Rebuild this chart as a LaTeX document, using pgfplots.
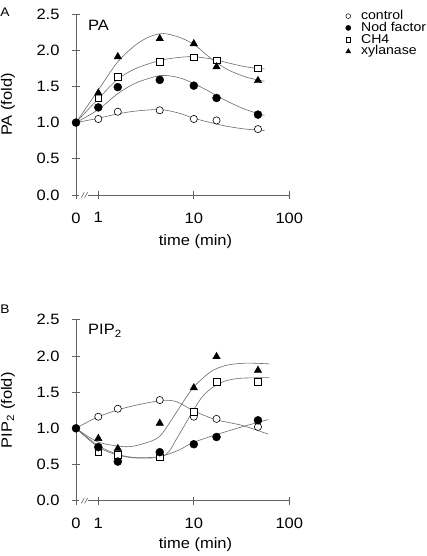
\documentclass[border=0pt]{standalone}
\usepackage{fontspec}
\setmainfont{Liberation Sans}[FakeStretch=1.1]
\usepackage{pgfplots}
\pgfplotsset{compat=1.18}
\definecolor{axc}{gray}{0.38}
\definecolor{cvc}{gray}{0.42}
\pgfplotsset{
  sCurve/.style={smooth, no marks, cvc, line width=0.6pt},
  sCtrl/.style={only marks, mark=*, mark size=3.6pt, mark options={fill=white, draw=black, line width=0.6pt}},
  sNod/.style={only marks, mark=*, mark size=4pt, mark options={fill=black, draw=black}},
  sCh/.style={only marks, mark=square*, mark size=3.3pt, mark options={fill=white, draw=black, line width=0.6pt}},
  sXyl/.style={only marks, mark=triangle*, mark size=4.3pt, mark options={fill=black, draw=black}},
}
\newcommand{\axisbreak}{%
  \fill[white] ([yshift=-1.5pt]axis cs:0.634,0) rectangle ([yshift=1.5pt]axis cs:0.787,0);
  \draw[axc, line width=0.6pt] ([xshift=-1.5pt,yshift=-2.7pt]axis cs:0.688,0) -- ([xshift=1.5pt,yshift=2.7pt]axis cs:0.688,0);
  \draw[axc, line width=0.6pt] ([xshift=-1.5pt,yshift=-2.7pt]axis cs:0.745,0) -- ([xshift=1.5pt,yshift=2.7pt]axis cs:0.745,0);
}
\begin{document}
\begin{tikzpicture}[x=1pt,y=1pt]
\useasboundingbox (0,0) rectangle (427,556);
% ---------------- Panel A ----------------
\begin{axis}[xmode=log, scale only axis, width=213.3pt, height=181pt,
    at={(76pt,361pt)}, anchor=south west,
    xmin=0.584, xmax=100, ymin=0, ymax=2.5,
    axis x line=bottom, axis y line=left,
    axis line style={-, axc, line width=0.7pt},
    xtick={0.584,1,10,100}, xticklabels={0,1,10,100},
    ytick={0,0.5,1,1.5,2,2.5},
    yticklabels={0.0,0.5,1.0,1.5,2.0,2.5},
    xminorticks=false, yminorticks=false,
    tick align=center, major tick length=8pt,
    tick style={axc, line width=0.7pt},
    tick label style={font=\fontsize{15}{17}\selectfont},
    x tick label style={yshift=-10pt},
    y tick label style={xshift=-9pt},
    label style={font=\fontsize{15}{17}\selectfont},
    xlabel={time (min)}, ylabel={PA (fold)},
    x label style={at={(axis description cs:0.56,-0.258)}, anchor=center},
    y label style={at={(axis description cs:-0.319,0.5)}, anchor=center},
    clip=false,
  legend style={at={(axis description cs:1.2635,1.022)}, anchor=north west,
    draw=none, fill=none, font=\fontsize{12.8}{15}\selectfont,
    row sep=0pt, column sep=10pt, inner sep=0pt,
    nodes={text height=9pt, text depth=2.4pt, inner sep=0.2pt, anchor=west}},
  legend cell align=left,
  legend image code/.code={\draw plot coordinates {(0pt,0pt)};},
]
\addlegendimage{only marks, mark=*, mark size=2.4pt, mark options={fill=white, draw=black, line width=0.5pt}}
\addlegendentry{control}
\addlegendimage{only marks, mark=*, mark size=2.6pt, mark options={fill=black, draw=black}}
\addlegendentry{Nod factor}
\addlegendimage{only marks, mark=square*, mark size=2.2pt, mark options={fill=white, draw=black, line width=0.5pt}}
\addlegendentry{CH4}
\addlegendimage{only marks, mark=triangle*, mark size=2.9pt, mark options={fill=black, draw=black}}
\addlegendentry{xylanase}
% fitted curves
\addplot[sCurve, forget plot] coordinates {(0.584,1.0) (1,1.06) (1.6,1.12) (2.5,1.16) (4.5,1.18) (7,1.13) (10,1.06) (15,1.00) (22,0.95) (35,0.91) (55,0.89)};
\addplot[sCurve, forget plot] coordinates {(0.584,1.0) (1,1.18) (1.6,1.40) (2.5,1.55) (4.5,1.65) (7,1.62) (10,1.54) (15,1.42) (22,1.30) (35,1.18) (55,1.10)};
\addplot[sCurve, forget plot] coordinates {(0.584,1.0) (1,1.33) (1.6,1.60) (2.5,1.75) (4.5,1.86) (7,1.90) (10,1.91) (15,1.88) (22,1.83) (35,1.77) (55,1.74)};
\addplot[sCurve, forget plot] coordinates {(0.584,1.0) (1,1.45) (1.6,1.84) (2.5,2.08) (3.5,2.19) (4.8,2.23) (7,2.18) (10,2.08) (15,1.89) (22,1.74) (35,1.63) (55,1.57)};
% data (the shared t=0 point is shown by the filled circle)
\addplot[sCtrl, forget plot] coordinates {(1,1.05) (1.6,1.15) (4.4,1.17) (10,1.05) (17.3,1.03) (47,0.91)};
\addplot[sCh, forget plot] coordinates {(1,1.34) (1.6,1.63) (4.4,1.84) (10,1.90) (17.3,1.86) (47,1.75)};
\addplot[sXyl, forget plot] coordinates {(1,1.41) (1.6,1.91) (4.4,2.16) (10,2.09) (17.3,1.77) (47,1.58)};
\addplot[sNod, forget plot] coordinates {(0.584,1.0) (1,1.21) (1.6,1.49) (4.4,1.59) (10,1.51) (17.3,1.34) (47,1.11)};
\axisbreak
\end{axis}
% ---------------- Panel B ----------------
\begin{axis}[xmode=log, scale only axis, width=213.3pt, height=181pt,
    at={(76pt,55.3pt)}, anchor=south west,
    xmin=0.584, xmax=100, ymin=0, ymax=2.5,
    axis x line=bottom, axis y line=left,
    axis line style={-, axc, line width=0.7pt},
    xtick={0.584,1,10,100}, xticklabels={0,1,10,100},
    ytick={0,0.5,1,1.5,2,2.5},
    yticklabels={0.0,0.5,1.0,1.5,2.0,2.5},
    xminorticks=false, yminorticks=false,
    tick align=center, major tick length=8pt,
    tick style={axc, line width=0.7pt},
    tick label style={font=\fontsize{15}{17}\selectfont},
    x tick label style={yshift=-10pt},
    y tick label style={xshift=-9pt},
    label style={font=\fontsize{15}{17}\selectfont},
    xlabel={time (min)}, ylabel={PIP\textsubscript{2} (fold)},
    x label style={at={(axis description cs:0.56,-0.244)}, anchor=center},
    y label style={at={(axis description cs:-0.319,0.5)}, anchor=center},
    clip=false,
]
\addplot[sCurve] coordinates {(0.584,1.0) (1,1.16) (2,1.29) (4.4,1.38) (6.5,1.37) (10,1.24) (17,1.12) (32,1.04) (60,0.92)};
\addplot[sCurve] coordinates {(0.584,1.0) (1,0.76) (1.6,0.64) (2.5,0.595) (4.4,0.61) (7,0.70) (9.7,0.80) (17,0.91) (32,1.02) (60,1.12)};
\addplot[sCurve] coordinates {(0.584,1.0) (1,0.74) (1.6,0.63) (2.5,0.59) (4.4,0.60) (5.5,0.68) (6.5,0.84) (8,1.04) (9.7,1.23) (12,1.42) (14.5,1.53) (20,1.64) (30,1.69) (62,1.70)};
\addplot[sCurve] coordinates {(0.584,1.0) (1,0.81) (1.95,0.745) (3,0.79) (4.4,0.89) (6.5,1.21) (9.7,1.55) (15,1.78) (22,1.87) (35,1.90) (62,1.89)};
\addplot[sCtrl] coordinates {(1,1.16) (1.6,1.27) (4.4,1.39) (10,1.16) (17.3,1.13) (47,1.02)};
\addplot[sCh] coordinates {(1,0.67) (1.6,0.63) (4.4,0.60) (10,1.23) (17.3,1.64) (47,1.64)};
\addplot[sXyl] coordinates {(1,0.86) (1.6,0.72) (4.4,1.07) (10,1.56) (17.3,1.99) (47,1.80)};
\addplot[sNod] coordinates {(0.584,1.0) (1,0.74) (1.6,0.54) (4.4,0.67) (10,0.78) (17.3,0.88) (47,1.11)};
\axisbreak
\end{axis}
% panel letters and inner titles
\node[anchor=west, inner sep=0pt, font=\fontsize{12.5}{14}\selectfont] at (0.3,543.5) {A};
\node[anchor=west, inner sep=0pt, font=\fontsize{12.5}{14}\selectfont] at (0.3,247) {B};
\node[anchor=base west, inner sep=0pt, font=\fontsize{15}{17}\selectfont] at (88,525) {PA};
\node[anchor=base west, inner sep=0pt, font=\fontsize{15}{17}\selectfont] at (88,221) {PIP\textsubscript{2}};
\end{tikzpicture}
\end{document}
